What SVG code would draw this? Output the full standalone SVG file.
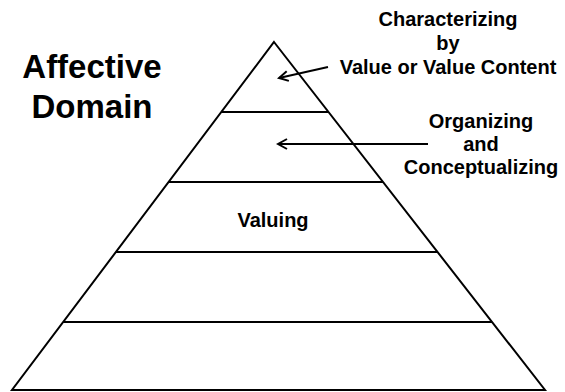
<svg xmlns="http://www.w3.org/2000/svg" width="565" height="392" viewBox="0 0 565 392">
<defs>
<style>
.t{font-family:"Liberation Sans",Arial,sans-serif;font-weight:bold;fill:#000;text-anchor:middle}
.s{font-size:20px}
.b{font-size:33px}
.ln{stroke:#000;stroke-width:2;fill:none}
</style>
<marker id="ah" markerWidth="12" markerHeight="12" refX="10" refY="6" orient="auto" markerUnits="userSpaceOnUse">
<path d="M1,1 L10,6 L1,11" fill="none" stroke="#000" stroke-width="2"/>
</marker>
</defs>
<rect width="565" height="392" fill="#fff"/>
<g id="title">
<text class="t b" x="92" y="78">Affective</text>
<text class="t b" x="92" y="118">Domain</text>
</g>
<g id="pyramid">
<polygon class="ln" points="274,42 545,390 12,390"/>
<line class="ln" x1="221" y1="112" x2="328" y2="112"/>
<line class="ln" x1="169" y1="182" x2="383" y2="182"/>
<line class="ln" x1="116" y1="252" x2="437" y2="252"/>
<line class="ln" x1="63" y1="322" x2="492" y2="322"/>
</g>
<g id="level-characterizing">
<text class="t s" x="448" y="26">Characterizing</text>
<text class="t s" x="448" y="50">by</text>
<text class="t s" x="448" y="74">Value or Value Content</text>
</g>
<g id="level-organizing">
<text class="t s" x="481" y="128">Organizing</text>
<text class="t s" x="481" y="151">and</text>
<text class="t s" x="481" y="174">Conceptualizing</text>
</g>
<g id="level-valuing">
<text class="t s" x="273" y="227">Valuing</text>
</g>
<g id="connectors">
<line class="ln" x1="328" y1="67" x2="279" y2="78" marker-end="url(#ah)"/>
<line class="ln" x1="428" y1="144" x2="278" y2="144" marker-end="url(#ah)"/>
</g>
</svg>
